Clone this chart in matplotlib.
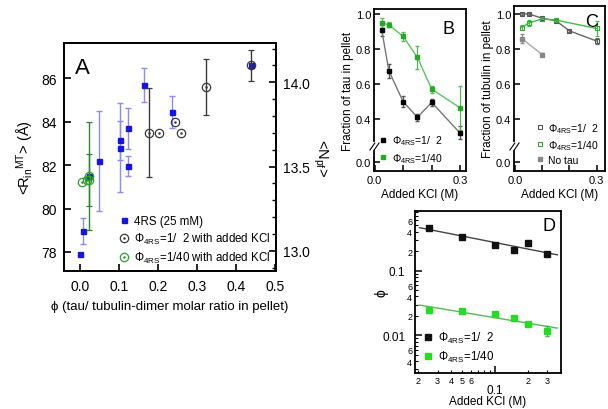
import numpy as np
import matplotlib
matplotlib.use('Agg')
import matplotlib.pyplot as plt
from matplotlib.path import Path
from matplotlib.ticker import FixedLocator, FuncFormatter, NullLocator

plt.rcParams['font.family'] = ['Liberation Sans', 'DejaVu Sans']
plt.rcParams['mathtext.fontset'] = 'custom'
plt.rcParams['mathtext.rm'] = 'Liberation Sans'
plt.rcParams['mathtext.it'] = 'Liberation Sans:italic'
plt.rcParams['mathtext.bf'] = 'Liberation Sans:bold'
plt.rcParams['axes.linewidth'] = 1.3

# ---------------- Panel A data ----------------
a_4rs_phi = [0.0, 0.008, 0.023, 0.048, 0.103, 0.103, 0.123, 0.123, 0.165, 0.235, 0.438]
a_4rs_R = [77.9, 78.95, 81.5, 82.2, 83.15, 82.8, 83.7, 81.95, 85.7, 84.45, 86.6]
a_4rs_err = [0.0, 0.6, 0.1, 2.3, 0.9, 2.05, 0.95, 0.45, 0.8, 0.75, 0.0]

a_half_phi = [0.177, 0.202, 0.243, 0.258, 0.323, 0.438]
a_half_R = [83.5, 83.5, 84.0, 83.5, 85.6, 86.6]
a_half_err = [2.05, 0.0, 0.0, 0.0, 1.3, 0.7]

a_40_phi = [0.004, 0.018, 0.023, 0.023]
a_40_R = [81.2, 81.3, 81.3, 81.5]
a_40_err = [0.0, 0.0, 1.2, 2.5]

# ---------------- Panels B, C, D data ----------------
kcl = [0.025, 0.05, 0.1, 0.15, 0.2, 0.3]

b_half = [0.91, 0.676, 0.499, 0.41, 0.495, 0.318]
b_half_err = [0.035, 0.04, 0.033, 0.02, 0.02, 0.043]
b_40 = [0.949, 0.939, 0.872, 0.752, 0.571, 0.463]
b_40_err = [0.027, 0.015, 0.024, 0.067, 0.02, 0.125]

c_half = [1.0, 1.0, 0.975, 0.961, 0.903, 0.845]
c_half_err = [0.005, 0.005, 0.01, 0.01, 0.005, 0.015]
c_40_kcl = [0.025, 0.05, 0.1, 0.15, 0.3]
c_40 = [0.922, 0.948, 0.971, 0.965, 0.917]
c_40_err = [0.012, 0.015, 0.01, 0.01, 0.045]
c_notau_kcl = [0.025, 0.1]
c_notau = [0.859, 0.767]
c_notau_err = [0.025, 0.01]

d_half = [0.454, 0.333, 0.251, 0.208, 0.267, 0.181]
d_40 = [0.0248, 0.0238, 0.0216, 0.0187, 0.0151, 0.0119]
d_40_err = [0, 0, 0, 0, 0, 0.002]

lab_half = r'Φ$_{\rm 4RS}$=1/  2'
lab_40 = r'Φ$_{\rm 4RS}$=1/40'


def nz(err):
    e = np.asarray(err, dtype=float)
    return np.where(e > 0, e, np.nan)


fig = plt.figure(figsize=(6.08, 4.10), dpi=100)

# ================= Panel A =================
axA = fig.add_axes([64/608, 1-272/410, 212/608, 228/410])
eb1 = axA.errorbar(a_4rs_phi, a_4rs_R, yerr=nz(a_4rs_err), fmt='s', color='#1515e8', ms=3.6,
                   ecolor='#8c8cf5', elinewidth=1.0, capsize=2.5, capthick=1.0, zorder=3)
eb2 = axA.errorbar(a_half_phi, a_half_R, yerr=nz(a_half_err), fmt='o', mfc='none', mec='#3a3a3a',
                   mew=0.9, ms=6, ecolor='#3a3a3a', elinewidth=1.0, capsize=2.5, capthick=1.0,
                   zorder=4)
eb3 = axA.errorbar(a_40_phi, a_40_R, yerr=nz(a_40_err), fmt='o', mfc='none', mec='#2ca02c',
                   mew=0.9, ms=6, ecolor='#2a8a2a', elinewidth=1.0, capsize=2.5, capthick=1.0,
                   zorder=4)
d2, = axA.plot(a_half_phi, a_half_R, '.', color='#3a3a3a', ms=1.6, zorder=4)
d3, = axA.plot(a_40_phi, a_40_R, '.', color='#2a8a2a', ms=1.6, zorder=4)
axA.set_xlim(-0.041, 0.503)
axA.set_ylim(77.12, 87.63)
axA.set_xticks([0.0, 0.1, 0.2, 0.3, 0.4, 0.5])
axA.set_xticklabels(['0.0', '0.1', '0.2', '0.3', '0.4', '0.5'])
axA.set_yticks([78, 80, 82, 84, 86])
axA.tick_params(direction='in', labelsize=10, length=5, width=1.2, pad=5)
axA.tick_params(axis='x', pad=6)
axA.set_xlabel('ϕ (tau/ tubulin-dimer molar ratio in pellet)', fontsize=9.5, labelpad=5)
axA.set_ylabel(r'<R$_{\rm in}$$^{\rm MT}$> (Å)', fontsize=10.5, labelpad=4)
axA.text(0.05, 0.94, 'A', transform=axA.transAxes, fontsize=16, va='top', ha='left')
axA.legend([eb1[0], (eb2[0], d2), (eb3[0], d3)],
           ['4RS (25 mM)', r'Φ$_{\rm 4RS}$=1/  2 with added KCl', r'Φ$_{\rm 4RS}$=1/40 with added KCl'],
           loc='lower right', frameon=False, fontsize=8.3, handletextpad=0.3,
           labelspacing=0.35, borderaxespad=0.1, handlelength=1.2)

axA2 = axA.twinx()
axA2.set_ylim(12.881, 14.233)
axA2.set_yticks([13.0, 13.5, 14.0])
axA2.set_yticks(np.arange(12.9, 14.25, 0.1), minor=True)
axA2.set_yticklabels(['13.0', '13.5', '14.0'])
axA2.tick_params(axis='y', direction='in', labelsize=10, length=5, width=1.2, pad=5)
axA2.tick_params(axis='y', which='minor', direction='in', length=3, width=1.0)
axA2.set_ylabel(r'<N$_{\rm pf}$>', fontsize=10.5, rotation=270, labelpad=14)

# ================= Broken-axis scale for B, C =================
BRK = 0.3
KCOMP = 0.487


def fwd(y):
    y = np.asarray(y, dtype=float)
    return np.where(y >= BRK, y, BRK - (BRK - y) * KCOMP)


def inv(v):
    v = np.asarray(v, dtype=float)
    return np.where(v >= BRK, v, BRK - (BRK - v) / KCOMP)


slash = Path([(-1.6, -1.3), (0.2, 1.3), (-0.2, -1.3), (1.6, 1.3)],
             [Path.MOVETO, Path.LINETO, Path.MOVETO, Path.LINETO])


def setup_frac(ax, top, ylabel, ylab_x):
    ax.set_yscale('function', functions=(fwd, inv))
    ax.set_ylim(-0.105, top)
    ax.set_yticks([0.0, 0.4, 0.6, 0.8, 1.0])
    ax.set_yticklabels(['0.0', '0.4', '0.6', '0.8', '1.0'])
    ax.yaxis.set_minor_locator(NullLocator())
    ax.set_xticks([0.0, 0.1, 0.2, 0.3])
    ax.set_xticklabels(['0.0', '', '', '0.3'])
    ax.tick_params(direction='in', labelsize=8, length=4, width=1.1, pad=2)
    ax.tick_params(axis='x', pad=3)
    ax.set_xlabel('Added KCl (M)', fontsize=8.5, labelpad=2)
    ax.set_ylabel(ylabel, fontsize=8.5)
    ax.yaxis.set_label_coords(ylab_x, 0.5)
    tr = ax.get_yaxis_transform()
    ax.plot([0, 0], [0.17, 0.215], color='white', lw=3, transform=tr, clip_on=False, zorder=5)
    ax.plot([0], [0.19], marker=slash, ms=7, mec='k', mfc='none', mew=0.8,
            transform=tr, clip_on=False, zorder=6)


# ================= Panel B =================
axB = fig.add_axes([374/608, 1-172/410, 92/608, 162/410])
ebB1 = axB.errorbar(kcl, b_half, yerr=b_half_err, fmt='s-', color='#777777', mfc='black', mec='black',
                    ms=3, lw=1.0, elinewidth=0.9, ecolor='#555555', capsize=1.5, zorder=3)
ebB2 = axB.errorbar(kcl, b_40, yerr=b_40_err, fmt='s-', color='#5cc55c', mfc='#22aa22', mec='#22aa22',
                    ms=3, lw=1.0, elinewidth=0.9, ecolor='#55bb55', capsize=1.5, zorder=3)
setup_frac(axB, 1.029, 'Fraction of tau in pellet', -0.215)
axB.set_xlim(-0.002, 0.32)
axB.text(0.88, 0.93, 'B', transform=axB.transAxes, fontsize=13, va='top', ha='right')
legB = axB.legend([ebB1[0], ebB2[0]], [lab_half, lab_40], loc='lower left', frameon=False,
                  fontsize=7.5, handlelength=0.6, handletextpad=0.5, labelspacing=0.35,
                  borderaxespad=0.2)
for h in legB.legend_handles:
    h.set_linestyle('none')

# ================= Panel C =================
axC = fig.add_axes([514/608, 1-172/410, 91/608, 165/410])
ebC1 = axC.errorbar(kcl, c_half, yerr=c_half_err, fmt='s-', color='#666666', mfc='none', mec='#555555',
                    ms=3.2, mew=0.8, lw=1.0, elinewidth=0.8, ecolor='#666666', capsize=1.5, zorder=3)
ebC2 = axC.errorbar(c_40_kcl, c_40, yerr=c_40_err, fmt='s-', color='#44bb44', mfc='none', mec='#33aa33',
                    ms=3.2, mew=0.8, lw=1.0, elinewidth=0.8, ecolor='#44bb44', capsize=1.5, zorder=3)
ebC3 = axC.errorbar(c_notau_kcl, c_notau, yerr=c_notau_err, fmt='s-', color='#aaaaaa', mfc='#888888',
                    mec='#888888', ms=2.6, lw=1.0, elinewidth=0.8, ecolor='#888888', capsize=1.5,
                    zorder=3)
setup_frac(axC, 1.045, 'Fraction of tubulin in pellet', -0.215)
axC.set_xlim(-0.004, 0.331)
axC.text(0.92, 0.96, 'C', transform=axC.transAxes, fontsize=13, va='top', ha='right')
legC = axC.legend([ebC1[0], ebC2[0], ebC3[0]], [lab_half, lab_40, 'No tau'], loc='lower right',
                  frameon=False, fontsize=7.5, handlelength=0.6, handletextpad=0.5,
                  labelspacing=0.3, borderaxespad=0.2)
for h in legC.legend_handles:
    h.set_linestyle('none')

# ================= Panel D =================
axD = fig.add_axes([415/608, 1-374/410, 146/608, 162/410])
axD.set_xscale('log')
axD.set_yscale('log')
lx = np.log10(kcl)
fit_x = np.array([0.0205, 0.37])
ph = np.polyfit(lx, np.log10(d_half), 1)
p4 = np.polyfit(lx, np.log10(d_40), 1)
axD.plot(fit_x, 10 ** np.polyval(ph, np.log10(fit_x)), color='#444444', lw=1.0, zorder=2)
axD.plot(fit_x, 10 ** np.polyval(p4, np.log10(fit_x)), color='#55bb55', lw=1.0, zorder=2)
hd1, = axD.plot(kcl, d_half, 's', color='#111111', ms=3.8, zorder=3)
ebD = axD.errorbar(kcl, d_40, yerr=nz(d_40_err), fmt='s', color='#22dd22', ms=3.8, ecolor='#33bb33',
                   elinewidth=0.9, capsize=1.5, zorder=3)
axD.set_xlim(0.01866, 0.40)
axD.set_ylim(0.00264, 0.83)

xmaj = [0.1]
xmin = [0.02, 0.03, 0.04, 0.05, 0.06, 0.07, 0.08, 0.09, 0.2, 0.3, 0.4]
xmin_lab = {0.02: '2', 0.03: '3', 0.04: '4', 0.05: '5', 0.06: '6', 0.2: '2', 0.3: '3'}
axD.xaxis.set_major_locator(FixedLocator(xmaj))
axD.xaxis.set_major_formatter(FuncFormatter(lambda v, p: '0.1'))
axD.xaxis.set_minor_locator(FixedLocator(xmin))
axD.xaxis.set_minor_formatter(FuncFormatter(lambda v, p: xmin_lab.get(round(v, 3), '')))

ymaj = [0.01, 0.1]
ymin = [0.003, 0.004, 0.005, 0.006, 0.007, 0.008, 0.009,
        0.02, 0.03, 0.04, 0.05, 0.06, 0.07, 0.08, 0.09,
        0.2, 0.3, 0.4, 0.5, 0.6, 0.7, 0.8]
ymin_lab = {0.004: '4', 0.006: '6', 0.02: '2', 0.04: '4', 0.06: '6',
            0.2: '2', 0.4: '4', 0.6: '6'}
axD.yaxis.set_major_locator(FixedLocator(ymaj))
axD.yaxis.set_major_formatter(FuncFormatter(lambda v, p: '0.01' if v < 0.05 else '0.1'))
axD.yaxis.set_minor_locator(FixedLocator(ymin))
axD.yaxis.set_minor_formatter(FuncFormatter(lambda v, p: ymin_lab.get(round(v, 4), '')))

axD.tick_params(which='major', direction='in', length=5, width=1.1, labelsize=8.5)
axD.tick_params(which='minor', direction='in', length=2.5, width=0.8, labelsize=6.5, pad=2)
axD.tick_params(axis='x', which='major', pad=8)
axD.tick_params(axis='y', which='major', pad=7)
axD.set_xlabel('Added KCl (M)', fontsize=8.5, labelpad=-1)
axD.set_ylabel('ϕ', fontsize=10)
axD.yaxis.set_label_coords(-0.18, 0.5)
axD.text(0.96, 0.96, 'D', transform=axD.transAxes, fontsize=13, va='top', ha='right')
axD.legend([hd1, ebD[0]], [lab_half, lab_40], loc='lower left', frameon=False, fontsize=8.3,
           handlelength=0.6, handletextpad=0.6, labelspacing=0.3, borderaxespad=0.4)

fig.savefig('out.png', dpi=100)
